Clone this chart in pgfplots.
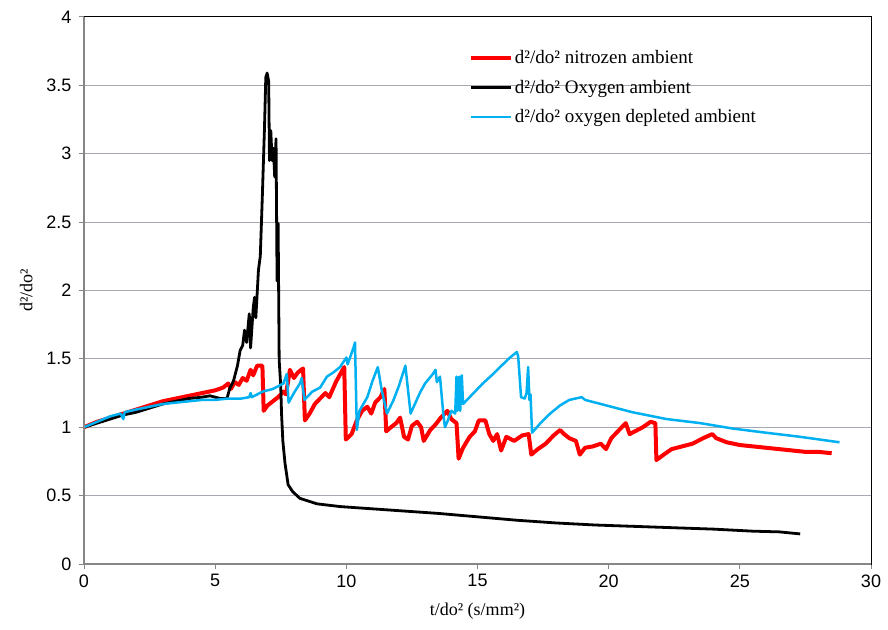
\documentclass[border=0pt]{standalone}
\usepackage{pgfplots}
\pgfplotsset{compat=1.18}
\usepackage{fontspec}
\setmainfont{Liberation Serif}
\newfontfamily\arial{Liberation Sans}
\definecolor{exblue}{RGB}{0,176,240}
\definecolor{gridc}{RGB}{168,168,178}
\definecolor{axc}{RGB}{134,134,134}
\begin{document}
\begin{tikzpicture}
\begin{axis}[
  name=ax,
  at={(0,0)}, anchor=south west,
  scale only axis,
  width=787pt, height=547pt,
  xmin=0, xmax=30, ymin=0, ymax=4,
  xtick={0,5,...,30},
  ytick={0,0.5,...,4},
  ymajorgrids,
  grid style={gridc, line width=1pt},
  tick pos=left,
  tick align=outside,
  major tick length=5pt,
  tick style={axc, line width=1pt},
  axis line style={black, line width=1pt},
  tick label style={font=\arial\fontsize{18pt}{20pt}\selectfont, black},
  /pgf/number format/assume math mode=true,
  xticklabel style={yshift=-2pt},
  yticklabel style={xshift=-4pt},
  xlabel={t/do² (s/mm²)},
  ylabel={d²/do²},
  label style={font=\fontsize{18pt}{20pt}\selectfont},
  xlabel style={yshift=-9pt},
  ylabel style={yshift=7pt},
  legend style={at={(0.485,0.947)}, anchor=north west, draw=none, fill=none,
     font=\fontsize{19pt}{21pt}\selectfont, row sep=11pt,
     legend cell align=left},
  legend image code/.code={\draw[#1] (0pt,0pt) -- (40pt,0pt);},
  clip=false,
]
\addplot[red, line width=4pt, line join=round] coordinates {
(0,1.00) (0.5,1.04) (1,1.07) (1.5,1.10) (2,1.13) (2.5,1.16) (3,1.19) (3.5,1.21)
(4,1.23) (4.5,1.25) (5,1.27) (5.3,1.29) (5.5,1.32) (5.6,1.28) (5.75,1.33) (5.9,1.31)
(6.05,1.36) (6.2,1.34) (6.35,1.42) (6.45,1.38) (6.6,1.45) (6.8,1.45) (6.85,1.12)
(7.0,1.16) (7.2,1.19) (7.4,1.22) (7.6,1.26) (7.7,1.24) (7.85,1.42) (8.0,1.36)
(8.15,1.40) (8.35,1.43) (8.42,1.05) (8.6,1.10) (8.8,1.17) (9.0,1.21) (9.2,1.25)
(9.35,1.22) (9.6,1.33) (9.8,1.40) (9.92,1.44) (9.98,0.91) (10.2,0.95) (10.4,1.05)
(10.6,1.12) (10.8,1.15) (10.95,1.10) (11.1,1.18) (11.3,1.22) (11.45,1.28) (11.52,0.97)
(11.7,1.00) (11.9,1.03) (12.05,1.07) (12.2,0.93) (12.35,0.91) (12.5,1.01) (12.7,1.04)
(12.85,1.00) (12.95,0.90) (13.2,0.98) (13.4,1.02) (13.6,1.07) (13.85,1.12) (14.0,1.06)
(14.2,1.03) (14.28,0.77) (14.45,0.85) (14.7,0.93) (14.9,0.97) (15.05,1.05) (15.3,1.05)
(15.45,0.95) (15.6,0.90) (15.75,0.95) (15.9,0.83) (16.1,0.93) (16.4,0.90) (16.7,0.94)
(16.95,0.95) (17.05,0.80) (17.3,0.84) (17.6,0.88) (17.9,0.94) (18.15,0.98) (18.3,0.95)
(18.5,0.92) (18.75,0.90) (18.9,0.80) (19.1,0.85) (19.4,0.86) (19.7,0.88) (19.9,0.84)
(20.1,0.92) (20.4,0.98) (20.65,1.03) (20.8,0.95) (21.0,0.97) (21.3,1.00) (21.6,1.04)
(21.78,1.03) (21.82,0.76) (22.1,0.80) (22.4,0.84) (22.8,0.86) (23.2,0.88) (23.6,0.92)
(23.95,0.95) (24.1,0.92) (24.5,0.89) (25.0,0.87) (25.5,0.86) (26.0,0.85) (26.5,0.84)
(27.0,0.83) (27.5,0.82) (28.0,0.82) (28.5,0.81)
};
\addlegendentry{d²/do² nitrozen ambient}
\addplot[black, line width=2.8pt, line join=round] coordinates {
(0,1.00) (0.5,1.03) (1,1.06) (1.5,1.09) (2,1.11) (2.5,1.14) (3,1.17) (3.5,1.19)
(4,1.21) (4.5,1.22) (4.8,1.23) (5.2,1.21) (5.45,1.21) (5.55,1.28) (5.7,1.34)
(5.85,1.45) (5.95,1.56) (6.05,1.60) (6.12,1.71) (6.2,1.62) (6.3,1.83) (6.35,1.58)
(6.45,1.87) (6.5,1.95) (6.55,1.80) (6.65,2.15) (6.72,2.25) (6.8,2.7) (6.88,3.19)
(6.93,3.56) (6.98,3.59) (7.04,3.53) (7.07,2.95) (7.12,3.17) (7.17,2.95) (7.22,3.04)
(7.27,2.83) (7.32,3.11) (7.36,2.07) (7.40,2.49) (7.44,1.49) (7.50,1.30) (7.53,1.10)
(7.58,0.90) (7.66,0.74) (7.78,0.58) (7.95,0.53) (8.23,0.48) (8.88,0.44) (9.76,0.42)
(10.5,0.41) (12,0.39) (13.5,0.37) (15,0.345) (16.5,0.32) (18,0.30) (19.5,0.285)
(21,0.275) (22.5,0.265) (24,0.255) (25.5,0.24) (26.5,0.235) (27.3,0.22)
};
\addlegendentry{d²/do² Oxygen ambient}
\addplot[exblue, line width=2.5pt, line join=round] coordinates {
(0,1.00) (0.5,1.04) (1,1.08) (1.4,1.10) (1.5,1.06) (1.55,1.11) (2,1.13) (2.5,1.15)
(3,1.17) (3.5,1.18) (4,1.19) (4.5,1.20) (5,1.20) (5.5,1.21) (6,1.21) (6.3,1.22)
(6.35,1.25) (6.4,1.22) (6.8,1.26) (7.2,1.28) (7.6,1.32) (7.73,1.39) (7.8,1.18)
(8.0,1.25) (8.23,1.32) (8.3,1.36) (8.4,1.20) (8.7,1.26) (9.0,1.29) (9.26,1.37)
(9.5,1.40) (9.76,1.44) (10.0,1.51) (10.05,1.46) (10.27,1.58) (10.33,1.62) (10.4,0.98)
(10.5,1.12) (10.8,1.22) (11.0,1.34) (11.2,1.44) (11.35,1.27) (11.55,1.10) (11.8,1.20)
(12.0,1.30) (12.25,1.45) (12.45,1.10) (12.8,1.25) (13.0,1.32) (13.3,1.39) (13.4,1.42)
(13.45,1.33) (13.57,1.37) (13.7,1.09) (13.76,1.00) (13.85,1.04) (14.0,1.12) (14.15,1.10)
(14.2,1.37) (14.23,1.12) (14.3,1.37) (14.34,1.12) (14.4,1.38) (14.45,1.17) (15.2,1.32)
(15.6,1.39) (15.86,1.44) (16.24,1.51) (16.5,1.55) (16.55,1.52) (16.66,1.22) (16.8,1.21)
(16.87,1.25) (16.93,1.44) (16.98,1.20) (17.02,1.24) (17.08,0.96) (17.4,1.03) (17.77,1.10)
(18.15,1.16) (18.5,1.20) (18.97,1.22) (19.1,1.20) (19.7,1.17) (20.9,1.11) (22.2,1.06)
(23.5,1.03) (24.75,0.99) (26.0,0.96) (27.3,0.93) (28.8,0.89)
};
\addlegendentry{d²/do² oxygen depleted ambient}
\draw[axc, line width=2pt] (rel axis cs:0,0) -- (rel axis cs:0,1);
\draw[axc, line width=2pt] (rel axis cs:0,0) -- (rel axis cs:1,0);
\end{axis}
\pgfresetboundingbox
\path[use as bounding box] ([shift={(-84pt,-65pt)}]ax.south west) rectangle ([shift={(17pt,17pt)}]ax.north east);
\end{tikzpicture}
\end{document}
